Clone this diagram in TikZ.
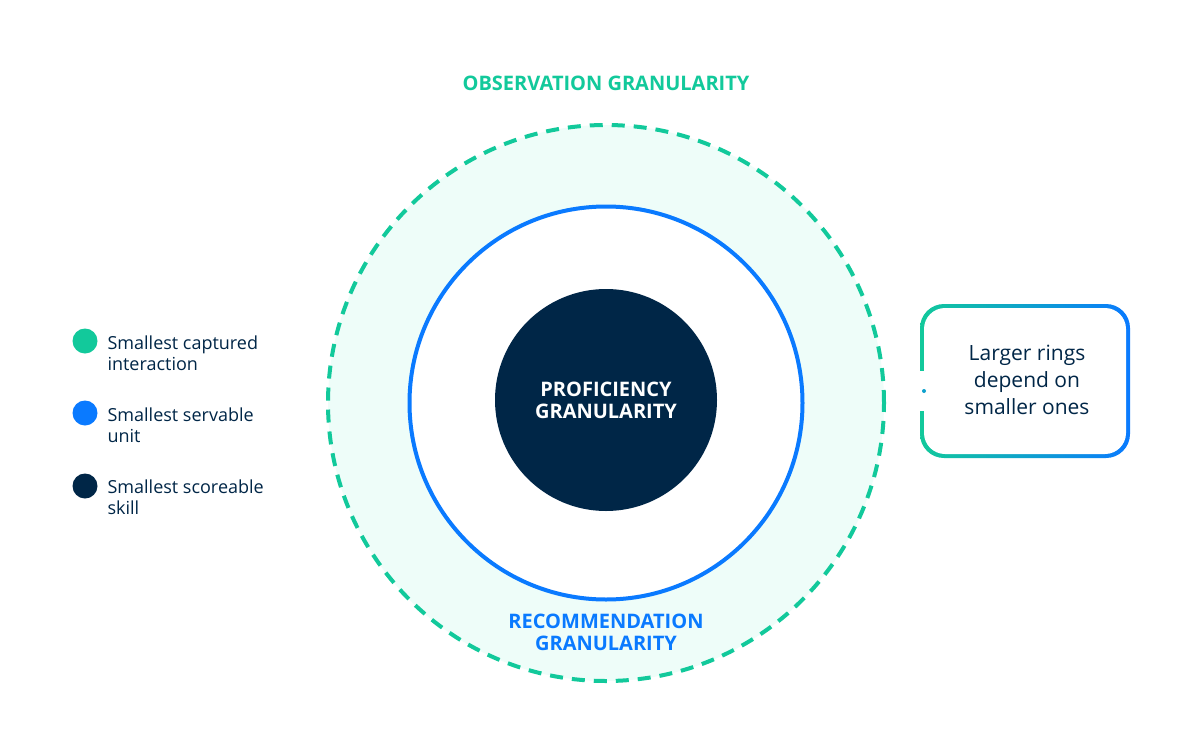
\documentclass[tikz,border=0pt]{standalone}
\usepackage{fontspec}
\setmainfont{Open Sans}
\definecolor{grn}{HTML}{12C99B}
\definecolor{blu}{HTML}{0A7AFF}
\definecolor{navy}{HTML}{002647}
\definecolor{mint}{HTML}{EEFDF9}
\begin{document}
\begin{tikzpicture}[x=1pt,y=-1pt,
  lbl/.style={font=\fontsize{18}{24}\selectfont,text=navy,align=left,anchor=west},
  dot/.style={circle,minimum size=25pt,inner sep=0pt},
  head/.style={font=\bfseries\fontsize{20}{25}\selectfont,align=center}]
\useasboundingbox (0,0) rectangle (1200,750);
\fill[white] (0,0) rectangle (1200,750);
% rings
\node[circle,minimum size=556pt,inner sep=0pt,fill=mint,draw=grn,line width=4pt,dash pattern=on 13pt off 9pt] (obs) at (606,403) {};
\node[circle,minimum size=393pt,inner sep=0pt,fill=white,draw=blu,line width=4pt] (rec) at (606,403) {};
\node[circle,minimum size=222pt,inner sep=0pt,fill=navy,text=white,head] (prof) at (606,400) {PROFICIENCY\\[-3pt]GRANULARITY};
\node[head,text=grn] (obst) at (606,83) {OBSERVATION GRANULARITY};
\node[head,text=blu] (rect) at (606,632) {RECOMMENDATION\\[-3pt]GRANULARITY};
% legend
\node[dot,fill=grn] (d1) at (85,341) {};
\node[dot,fill=blu] (d2) at (85,413) {};
\node[dot,fill=navy] (d3) at (85,486) {};
\node[lbl] (l1) at (104,353) {Smallest captured\\[-3pt]interaction};
\node[lbl] (l2) at (104,425) {Smallest servable\\[-3pt]unit};
\node[lbl] (l3) at (104,497) {Smallest scoreable\\[-3pt]skill};
% box
\shade[left color=grn,right color=blu,rounded corners=24pt] (920,304) rectangle (1130,458);
\fill[white,rounded corners=21pt] (924,308) rectangle (1126,454);
\fill[white] (918,371) rectangle (926,411);
\node[circle,fill=blu!50!grn,minimum size=4pt,inner sep=0pt] (bd) at (924,391) {};
\node[font=\fontsize{21}{27}\selectfont,text=navy,align=center] (bt) at (1027,380) {Larger rings\\depend on\\smaller ones};
\end{tikzpicture}
\end{document}
